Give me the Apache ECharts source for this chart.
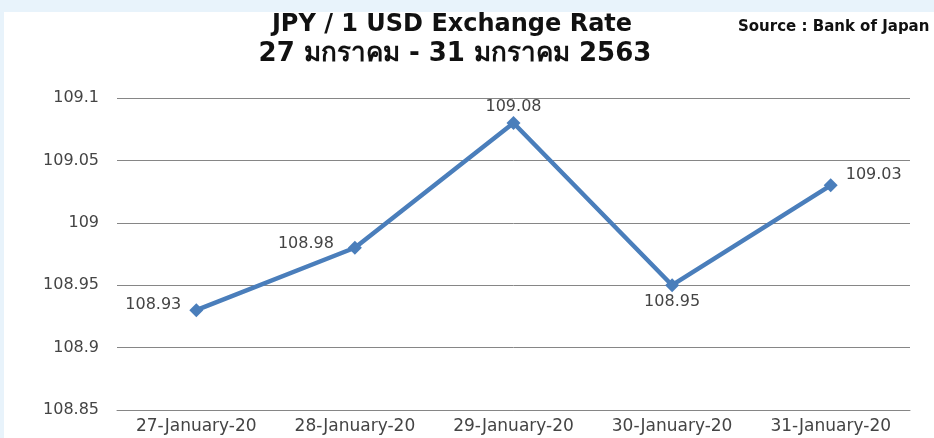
<!DOCTYPE html>
<html>
<head>
<meta charset="utf-8">
<script src="https://cdn.jsdelivr.net/npm/echarts@6/dist/echarts.min.js"></script>
<style>
html, body { margin: 0; padding: 0; background: #e8f3fb; }
#chart { width: 934px; height: 438px; }
</style>
</head>
<body>
<div id="chart"></div>
<script>
// ข้อมูลอัตราแลกเปลี่ยน
const categories = ['27-January-20', '28-January-20', '29-January-20', '30-January-20', '31-January-20'];
const rates = [108.93, 108.98, 109.08, 108.95, 109.03];
const labelPositions = ['left', 'left', 'top', 'bottom', 'right'];
const labelOffsets = [[0, -5], [0, -4], [0, 0], [0, 0], [0, -11]];

const chart = echarts.init(document.getElementById('chart'));

const seriesData = rates.map((v, i) => ({
    value: v,
    label: { position: labelPositions[i], offset: labelOffsets[i] }
}));

const titleFont = 'DejaVu Sans, Noto Sans, sans-serif';
const labelFont = 'DejaVu Sans, sans-serif';

const option = {
    backgroundColor: '#e8f3fb',
    graphic: [
        {
            type: 'rect',
            z: -10,
            shape: { x: 4, y: 12, width: 930, height: 426 },
            style: { fill: '#ffffff' }
        },
        {
            type: 'text',
            x: 452,
            y: 25,
            style: {
                text: 'JPY / 1 USD Exchange Rate',
                align: 'center',
                verticalAlign: 'middle',
                font: 'bold 24px ' + titleFont,
                fill: '#111'
            }
        },
        {
            type: 'text',
            x: 455,
            y: 54,
            style: {
                text: '27 มกราคม - 31 มกราคม 2563',
                align: 'center',
                verticalAlign: 'middle',
                font: 'bold 26px ' + titleFont,
                fill: '#111'
            }
        },
        {
            type: 'text',
            x: 738,
            y: 27,
            style: {
                text: 'Source : Bank of Japan',
                align: 'left',
                verticalAlign: 'middle',
                font: 'bold 15px ' + titleFont,
                fill: '#111'
            }
        }
    ],
    grid: {
        left: 117,
        right: 24,
        top: 98,
        bottom: 28
    },
    xAxis: {
        type: 'category',
        data: categories,
        boundaryGap: true,
        axisLine: { show: true, lineStyle: { color: '#868686' } },
        axisTick: { show: false },
        axisLabel: {
            color: '#444',
            fontSize: 17,
            fontFamily: labelFont,
            margin: 8,
            interval: 0
        }
    },
    yAxis: {
        type: 'value',
        min: 108.85,
        max: 109.1,
        interval: 0.05,
        axisLine: { show: false },
        axisTick: { show: false },
        axisLabel: {
            color: '#444',
            fontSize: 16,
            fontFamily: labelFont,
            margin: 18,
            formatter: (v) => String(Math.round(v * 100) / 100)
        },
        splitLine: { lineStyle: { color: '#868686', width: 1 } }
    },
    series: [
        {
            type: 'line',
            data: seriesData,
            symbol: 'diamond',
            symbolSize: 14,
            lineStyle: { color: '#4a7ebb', width: 4.5 },
            itemStyle: { color: '#4a7ebb' },
            label: {
                show: true,
                color: '#444',
                fontSize: 16,
                fontFamily: labelFont,
                distance: 8
            },
            animation: false
        }
    ]
};

// ปรับระยะ label ด้านบน/ล่างให้ชิดจุด
option.series[0].data[2].label.distance = 1;
option.series[0].data[3].label.distance = 2;
option.series[0].data[1].label.distance = 14;

chart.setOption(option);
</script>
</body>
</html>
